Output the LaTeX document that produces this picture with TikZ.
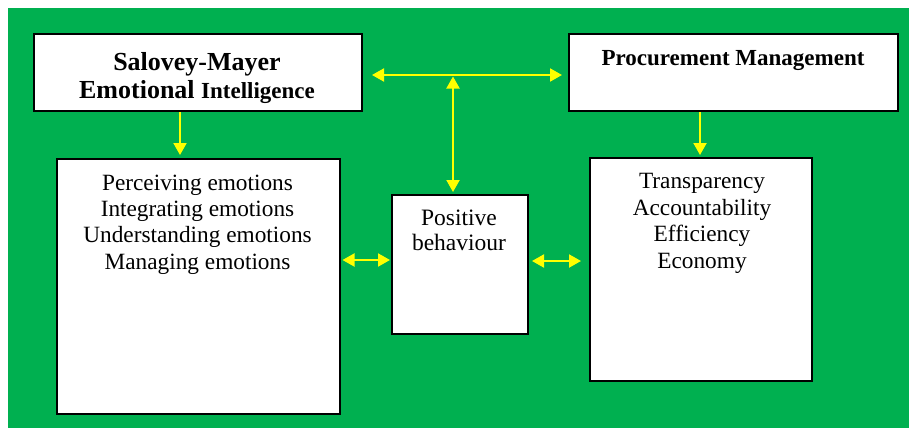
\documentclass[tikz,border=0pt]{standalone}
\usepackage{fontspec}
\setmainfont{Liberation Serif}
\usetikzlibrary{arrows.meta}
\definecolor{greenbg}{RGB}{0,176,80}
\definecolor{arrowyellow}{RGB}{255,255,0}
\begin{document}
\begin{tikzpicture}[x=1pt,y=-1pt,
  box/.style={draw=black, line width=2pt, fill=white, rectangle, inner sep=0pt, anchor=north west},
  txt/.style={align=center, inner sep=0pt, text=black, font=\fontsize{23.3}{26.4}\selectfont},
  title/.style={align=center, inner sep=0pt, text=black, font=\bfseries\fontsize{26}{28}\selectfont},
  conn/.style={draw=arrowyellow, line width=2pt},
  dbl/.style={conn, {Triangle[length=12pt,width=13pt]}-{Triangle[length=12pt,width=13pt]}},
  sgl/.style={conn, -{Triangle[length=12pt,width=13pt]}}]
\useasboundingbox (0,0) rectangle (909,428);
\fill[white] (0,0) rectangle (909,428);
\fill[greenbg] (8,8) rectangle (909,428);
% boxes
\node[box, minimum width=328pt, minimum height=77pt] (S) at (33,33) {};
\node[box, minimum width=329pt, minimum height=77pt] (P) at (568,33) {};
\node[box, minimum width=283pt, minimum height=255pt] (L) at (56,158) {};
\node[box, minimum width=136pt, minimum height=139pt] (B) at (391,194) {};
\node[box, minimum width=222pt, minimum height=223pt] (R) at (589,157) {};
% texts
\node[title] (St) at (197,78) {Salovey-Mayer\\Emotional {\fontsize{23}{28}\selectfont Intelligence}};
\node[title, font=\bfseries\fontsize{23}{26}\selectfont, anchor=base] (Pt) at (733,65) {Procurement Management};
\node[txt, anchor=north] (Lt) at (197.5,174.5) {Perceiving emotions\\Integrating emotions\\Understanding emotions\\Managing emotions};
\node[txt, anchor=north, font=\fontsize{23.5}{25}\selectfont] (Bt) at (459,209.5) {Positive\\behaviour};
\node[txt, anchor=north] (Rt) at (702,173.5) {Transparency\\Accountability\\Efficiency\\Economy};
% connectors
\coordinate (hv) at (453,75);
\coordinate (m1) at (0,260);
\coordinate (m2) at (0,261);
\draw[dbl] ([xshift=9pt]S.east |- hv) -- ([xshift=-6pt]P.west |- hv);
\draw[dbl] ([shift={(0,1.5)}]hv) -- ([shift={(0,-2)}]hv |- B.north);
\draw[sgl, shorten >=3pt] ([xshift=-18pt]S.south) -- ([xshift=-18pt]S.south |- L.north);
\draw[sgl, shorten >=2pt] ([xshift=-33.5pt]P.south) -- ([xshift=-33.5pt]P.south |- R.north);
\draw[dbl, shorten <=1.5pt, shorten >=1pt] (L.east |- m1) -- (B.west |- m1);
\draw[dbl, shorten <=3pt, shorten >=8pt] (B.east |- m2) -- (R.west |- m2);
\end{tikzpicture}
\end{document}
